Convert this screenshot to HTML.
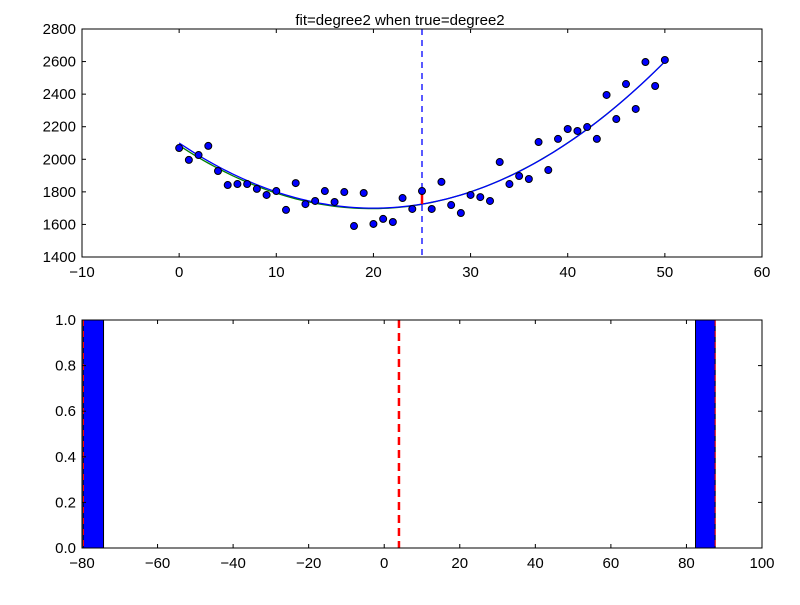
<!DOCTYPE html>
<html><head><meta charset="utf-8"><style>
body{margin:0;background:#fff;}
svg text{font-family:"Liberation Sans",sans-serif;}
</style></head><body>
<svg id="c" width="800" height="600" xmlns="http://www.w3.org/2000/svg"></svg>
<script>
const xs=[0,1,2,3,4,5,6,7,8,9,10,11,12,13,14,15,16,17,18,19,20,21,22,23,24,25,26,27,28,29,30,31,32,33,34,35,36,37,38,39,40,41,42,43,44,45,46,47,48,49,50];
const ys=[2069,1996,2026,2082,1928,1842,1848,1848,1818,1781,1805,1689,1854,1725,1744,1805,1738,1799,1590,1793,1603,1634,1615,1762,1695,1805,1695,1861,1719,1670,1781,1768,1744,1983,1848,1897,1879,2106,1934,2125,2186,2174,2198,2125,2395,2247,2462,2309,2597,2450,2610];
const fitCoef=[1,20,1700];
const trueCoef=[0.99,19.8,1697];
const markX=25;
const topXTicks=[-10,0,10,20,30,40,50,60];
const topYTicks=[1400,1600,1800,2000,2200,2400,2600,2800];
const barEdges=[[-79.7,-74.3],[82.4,87.6]];
const barHeights=[1,1];
const redLines=[-79.6,87.6];
const centerLine=3.9;
const botXTicks=[-80,-60,-40,-20,0,20,40,60,80,100];
const botYTicks=[0.0,0.2,0.4,0.6,0.8,1.0];

const svg=document.getElementById('c');
const NS='http://www.w3.org/2000/svg';
function mk(tag,attrs,parent){const e=document.createElementNS(NS,tag);for(const k in attrs)e.setAttribute(k,attrs[k]);(parent||svg).appendChild(e);return e;}

const L=82,R=762,T1=29,B1=257,T2=320,B2=548;
const tx=v=>L+(v+10)/70*(R-L);
const ty=v=>B1-(v-1400)/1400*(B1-T1);
const bx=v=>L+(v+80)/180*(R-L);
const by=v=>B2-v*(B2-T2);

const g1=mk('g',{});


const title=mk('text',{x:400,y:25,'text-anchor':'middle','font-size':15},g1);
title.textContent='fit=degree2 when true=degree2';



function quad(c,x){return c[0]*(x-c[1])*(x-c[1])+c[2];}
let dT='',dF='';
for(let i=0;i<=100;i++){const x=i*0.5;dT+=(i?'L':'M')+tx(x)+','+ty(quad(trueCoef,x));dF+=(i?'L':'M')+tx(x)+','+ty(quad(fitCoef,x));}
const gl=mk('path',{d:dT,fill:'none',stroke:'#008000','stroke-width':1.3},g1);


const fl=mk('path',{d:dF,fill:'none',stroke:'#0000ff','stroke-width':1.3},g1);


const vl=mk('line',{x1:tx(markX),x2:tx(markX),y1:T1,y2:B1,stroke:'#0000ff','stroke-width':1.3,'stroke-dasharray':'6,5'},g1);


const idx=xs.indexOf(markX);
const rl=mk('line',{x1:tx(markX),x2:tx(markX),y1:ty(ys[idx]),y2:ty(quad(fitCoef,markX)),stroke:'#ff0000','stroke-width':2.5},g1);


xs.forEach((x,i)=>{const p=mk('circle',{cx:tx(x),cy:ty(ys[i]),r:3.5,fill:'#0000ff',stroke:'#000','stroke-width':1},g1);

});
const f1=mk('rect',{x:L,y:T1,width:R-L,height:B1-T1,fill:'none',stroke:'#000','stroke-width':1},g1);


topXTicks.forEach(v=>{const x=tx(v);mk('line',{x1:x,x2:x,y1:B1,y2:B1-4,stroke:'#000'},g1);mk('line',{x1:x,x2:x,y1:T1,y2:T1+4,stroke:'#000'},g1);
const t=mk('text',{x:x,y:B1+20,'text-anchor':'middle','font-size':15},g1);t.textContent=(v<0?'\u2212'+(-v):v);

});
topYTicks.forEach(v=>{const y=ty(v);mk('line',{x1:L,x2:L+4,y1:y,y2:y,stroke:'#000'},g1);mk('line',{x1:R,x2:R-4,y1:y,y2:y,stroke:'#000'},g1);
const t=mk('text',{x:L-6,y:y+5,'text-anchor':'end','font-size':15},g1);t.textContent=v;

});

const g2=mk('g',{});


barEdges.forEach((e,i)=>{const b=mk('rect',{x:bx(e[0]),y:by(barHeights[i]),width:bx(e[1])-bx(e[0]),height:by(0)-by(barHeights[i]),fill:'#0000ff',stroke:'#000','stroke-width':1},g2);

});
redLines.forEach(v=>{const l=mk('line',{x1:bx(v),x2:bx(v),y1:T2,y2:B2,stroke:'#ff0000','stroke-width':1,'stroke-dasharray':'6,5'},g2);

});
const cl=mk('line',{x1:bx(centerLine),x2:bx(centerLine),y1:T2,y2:B2,stroke:'#ff0000','stroke-width':2.5,'stroke-dasharray':'8,5'},g2);


const f2=mk('rect',{x:L,y:T2,width:R-L,height:B2-T2,fill:'none',stroke:'#000','stroke-width':1},g2);


botXTicks.forEach(v=>{const x=bx(v);mk('line',{x1:x,x2:x,y1:B2,y2:B2-4,stroke:'#000'},g2);mk('line',{x1:x,x2:x,y1:T2,y2:T2+4,stroke:'#000'},g2);
const t=mk('text',{x:x,y:B2+20,'text-anchor':'middle','font-size':15},g2);t.textContent=(v<0?'\u2212'+(-v):v);

});
botYTicks.forEach(v=>{const y=by(v);mk('line',{x1:L,x2:L+4,y1:y,y2:y,stroke:'#000'},g2);mk('line',{x1:R,x2:R-4,y1:y,y2:y,stroke:'#000'},g2);
const t=mk('text',{x:L-6,y:y+5,'text-anchor':'end','font-size':15},g2);t.textContent=v.toFixed(1);

});
</script>
</body></html>
